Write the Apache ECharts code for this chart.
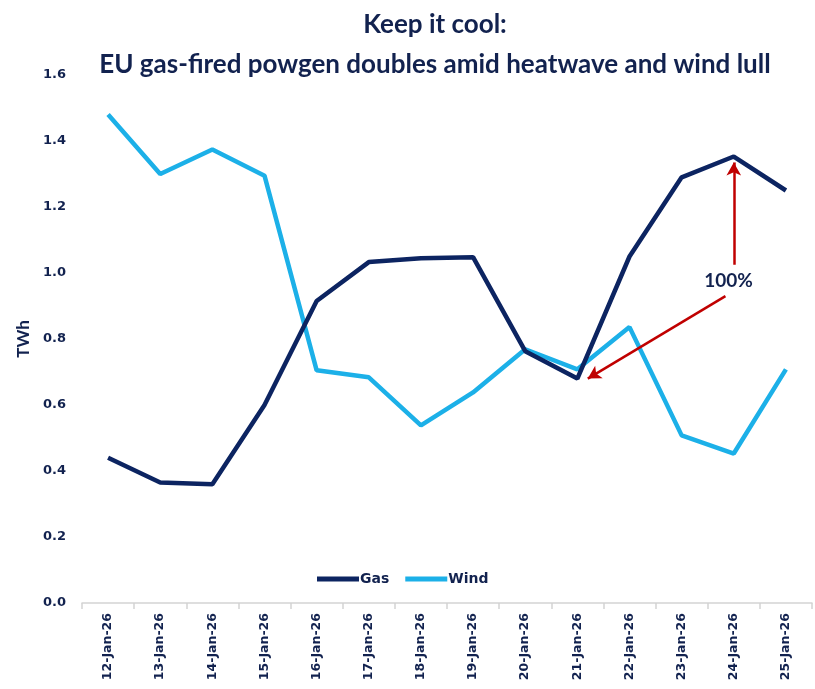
<!DOCTYPE html>
<html>
<head>
<meta charset="utf-8">
<script src="https://cdn.jsdelivr.net/npm/echarts@6/dist/echarts.min.js"></script>
<style>
  html, body { margin: 0; padding: 0; background: #fff; }
  #chart { width: 815px; height: 689px; }
</style>
</head>
<body>
<div id="chart"></div>
<script>
  // data
  var categories = ['12-Jan-26', '13-Jan-26', '14-Jan-26', '15-Jan-26', '16-Jan-26', '17-Jan-26', '18-Jan-26',
    '19-Jan-26', '20-Jan-26', '21-Jan-26', '22-Jan-26', '23-Jan-26', '24-Jan-26', '25-Jan-26'];
  var gas = [0.44, 0.365, 0.36, 0.60, 0.915, 1.033, 1.045, 1.048, 0.763, 0.68, 1.05, 1.29, 1.353, 1.25];
  var wind = [1.48, 1.30, 1.374, 1.295, 0.705, 0.684, 0.538, 0.638, 0.769, 0.708, 0.836, 0.508, 0.453, 0.708];
  var annotationText = '100%';

  var navy = '#0c2461';
  var cyan = '#1cb0e8';
  var red = '#c00000';
  var textColor = '#12224f';

  var chart = echarts.init(document.getElementById('chart'));
  chart.setOption({
    animation: false,
    title: {
      text: 'Keep it cool:\nEU gas-fired powgen doubles amid heatwave and wind lull',
      left: 430,
      textAlign: 'center',
      top: 0,
      textStyle: {
        fontFamily: 'Lato',
        fontWeight: 'bold',
        fontSize: 26,
        lineHeight: 40,
        color: textColor
      }
    },
    legend: {
      left: 312,
      top: 567,
      itemWidth: 42,
      itemHeight: 5,
      itemGap: 16,
      icon: 'rect',
      textStyle: { fontFamily: 'DejaVu Sans', fontWeight: 'bold', fontSize: 14, color: textColor, padding: [0, 0, 0, -4] },
      data: ['Gas', 'Wind']
    },
    grid: { left: 82, right: 3, top: 75, bottom: 86 },
    xAxis: [{
      type: 'category',
      data: categories,
      boundaryGap: true,
      axisLine: { lineStyle: { color: '#d4d4d4', width: 1.5 } },
      axisTick: { show: true, length: 6, lineStyle: { color: '#d4d4d4', width: 1.5 } },
      axisLabel: {
        rotate: 90,
        interval: 0,
        margin: 10,
        fontFamily: 'DejaVu Sans',
        fontWeight: 'bold',
        fontSize: 12.5,
        color: textColor
      }
    }, {
      // hidden helper axis so the annotation can sit between categories
      type: 'value',
      min: -0.5,
      max: categories.length - 0.5,
      show: false
    }],
    yAxis: {
      type: 'value',
      min: 0,
      max: 1.6,
      interval: 0.2,
      name: 'TWh',
      nameLocation: 'middle',
      nameGap: 44,
      nameTextStyle: { fontFamily: 'Lato', fontWeight: 'bold', fontSize: 17, color: textColor },
      splitLine: { show: false },
      axisLine: { show: false },
      axisTick: { show: false },
      axisLabel: {
        margin: 16,
        fontFamily: 'DejaVu Sans',
        fontWeight: 'bold',
        fontSize: 13,
        color: textColor,
        formatter: function (v) { return v.toFixed(1); }
      }
    },
    series: [
      {
        name: 'Gas',
        type: 'line',
        data: gas,
        symbol: 'none',
        color: navy,
        lineStyle: { width: 4.5, color: navy },
        z: 3
      },
      {
        name: 'Wind',
        type: 'line',
        data: wind,
        symbol: 'none',
        color: cyan,
        lineStyle: { width: 4.5, color: cyan },
        z: 2
      },
      {
        name: 'annotation',
        type: 'line',
        xAxisIndex: 1,
        data: [],
        z: 4,
        markLine: {
          silent: true,
          symbol: ['none', 'arrow'],
          symbolSize: [11, 13],
          lineStyle: { color: red, width: 2.5, type: 'solid' },
          label: { show: false },
          data: [
            [{ coord: [12, 1.025] }, { coord: [12, 1.335] }],
            [{ coord: [11.84, 0.93] }, { coord: [9.2, 0.68] }]
          ]
        },
        markPoint: {
          silent: true,
          symbol: 'rect',
          symbolSize: 1,
          itemStyle: { color: 'rgba(0,0,0,0)' },
          label: {
            show: true,
            formatter: annotationText,
            fontFamily: 'Lato',
            fontWeight: 'bold',
            fontSize: 19,
            color: textColor
          },
          data: [{ coord: [11.9, 0.976] }]
        }
      }
    ]
  });
</script>
</body>
</html>
